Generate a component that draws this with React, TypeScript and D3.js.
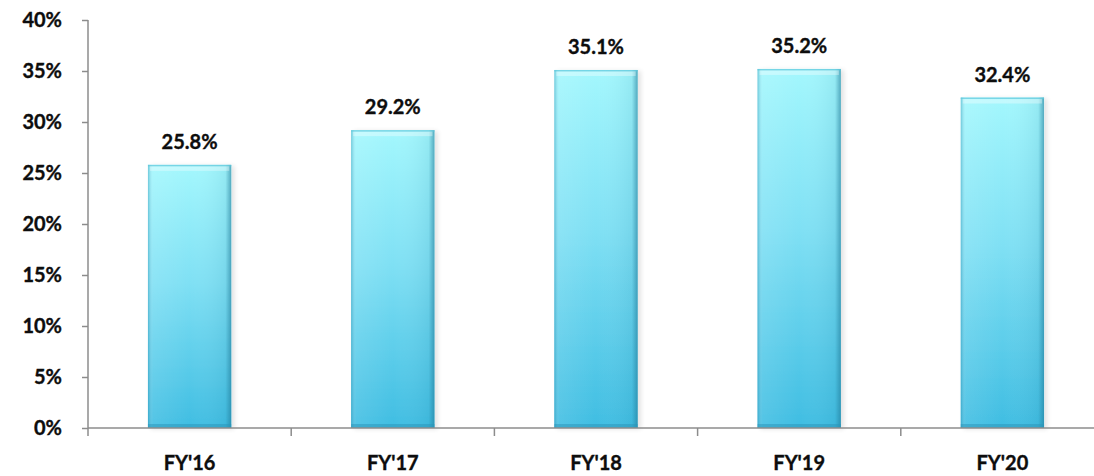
import { useEffect, useRef } from "react";
import * as d3 from "d3";

const CATEGORIES = ["FY'16", "FY'17", "FY'18", "FY'19", "FY'20"];
const VALUES = [25.8, 29.2, 35.1, 35.2, 32.4];
const Y_TICKS = [0, 5, 10, 15, 20, 25, 30, 35, 40];

const W = 1094, H = 476;
const FONT = "Lato, 'Open Sans', sans-serif";
const AXIS = "#8c8c8c";
const INK = "#0d0d0d";
const FS = 20;

export default function App() {
  const ref = useRef<SVGSVGElement>(null);

  useEffect(() => {
    if (!ref.current) return;
    const svg = d3.select(ref.current);
    svg.selectAll("*").remove();

    const m = { left: 88, top: 20, bottom: 48 };
    const x = d3.scaleBand<string>().domain(CATEGORIES).range([m.left, m.left + 203.2 * 5]).padding(0);
    const y = d3.scaleLinear().domain([0, 40]).range([H - m.bottom, m.top]);
    const barW = x.step() * 0.41;

    const defs = svg.append("defs");

    // main fill, light cyan at the top to deeper blue below
    const vg = defs.append("linearGradient").attr("id", "bar-v").attr("x1", 0).attr("y1", 0).attr("x2", 0).attr("y2", 1);
    vg.append("stop").attr("offset", "0%").attr("stop-color", "#a3f7fd");
    vg.append("stop").attr("offset", "45%").attr("stop-color", "#7fe0f4");
    vg.append("stop").attr("offset", "100%").attr("stop-color", "#3fbde2");

    // darker side edges
    const hg = defs.append("linearGradient").attr("id", "bar-h").attr("x1", 0).attr("y1", 0).attr("x2", 1).attr("y2", 0);
    hg.append("stop").attr("offset", "0%").attr("stop-color", "#2a8fb0").attr("stop-opacity", 0.45);
    hg.append("stop").attr("offset", "6%").attr("stop-color", "#ffffff").attr("stop-opacity", 0.1);
    hg.append("stop").attr("offset", "50%").attr("stop-color", "#ffffff").attr("stop-opacity", 0);
    hg.append("stop").attr("offset", "93%").attr("stop-color", "#1f7896").attr("stop-opacity", 0.1);
    hg.append("stop").attr("offset", "100%").attr("stop-color", "#1f7896").attr("stop-opacity", 0.6);

    const sh = defs.append("filter").attr("id", "shadow").attr("x", "-20%").attr("y", "-10%").attr("width", "140%").attr("height", "120%");
    sh.append("feGaussianBlur").attr("in", "SourceAlpha").attr("stdDeviation", 2.5).attr("result", "b");
    sh.append("feOffset").attr("in", "b").attr("dx", 3).attr("dy", 1).attr("result", "o");
    sh.append("feComponentTransfer").attr("in", "o").attr("result", "s")
      .append("feFuncA").attr("type", "linear").attr("slope", 0.12);
    const mg = sh.append("feMerge");
    mg.append("feMergeNode").attr("in", "s");
    mg.append("feMergeNode").attr("in", "SourceGraphic");

    // bars
    const bars = svg.append("g").selectAll("g.bar").data(VALUES).enter().append("g")
      .attr("class", "bar")
      .attr("transform", (_, i) => `translate(${x(CATEGORIES[i])! + (x.step() - barW) / 2},0)`);

    bars.append("rect")
      .attr("y", d => y(d)).attr("width", barW).attr("height", d => y(0) - y(d))
      .attr("fill", "url(#bar-v)").attr("filter", "url(#shadow)");
    bars.append("rect")
      .attr("y", d => y(d)).attr("width", barW).attr("height", d => y(0) - y(d))
      .attr("fill", "url(#bar-h)");
    // top bevel highlight
    bars.append("rect")
      .attr("x", 2).attr("y", d => y(d) + 1).attr("width", barW - 4).attr("height", 5)
      .attr("fill", "#ffffff").attr("opacity", 0.35);
    bars.append("rect")
      .attr("y", d => y(d)).attr("width", barW).attr("height", 1.5)
      .attr("fill", "#5fc8dc").attr("opacity", 0.7);
    // bottom shade
    bars.append("rect")
      .attr("y", y(0) - 4).attr("width", barW).attr("height", 4)
      .attr("fill", "#2a93b8").attr("opacity", 0.5);

    const boldText = (sel: any) => sel
      .attr("font-family", FONT).attr("font-weight", 700).attr("font-size", FS)
      .attr("fill", INK).attr("stroke", INK).attr("stroke-width", 0.35);

    // value labels
    svg.append("g").selectAll("text").data(VALUES).enter().append("text")
      .attr("x", (_, i) => x(CATEGORIES[i])! + x.step() / 2)
      .attr("y", d => y(d) - 16)
      .attr("text-anchor", "middle")
      .call(boldText)
      .text(d => `${d.toFixed(1)}%`);

    // y axis
    const ya = svg.append("g").attr("transform", `translate(${m.left},0)`)
      .call(d3.axisLeft(y).tickValues(Y_TICKS).tickSize(6).tickSizeOuter(0).tickPadding(20).tickFormat(d => `${d}%`));
    ya.select(".domain").attr("stroke", AXIS).attr("stroke-width", 1.5).attr("d", `M0,${y(40)}V${y(0) + 8}`);
    ya.selectAll(".tick line").attr("stroke", AXIS).attr("stroke-width", 1.5);
    ya.selectAll(".tick text").call(boldText);

    // x axis
    const xa = svg.append("g").attr("transform", `translate(0,${y(0)})`);
    xa.append("line").attr("x1", m.left).attr("x2", W).attr("stroke", AXIS).attr("stroke-width", 1.5);
    xa.selectAll("line.t").data(CATEGORIES.slice(1)).enter().append("line")
      .attr("class", "t")
      .attr("x1", d => x(d)!).attr("x2", d => x(d)!).attr("y1", 0).attr("y2", 8)
      .attr("stroke", AXIS).attr("stroke-width", 1.5);
    xa.selectAll("text").data(CATEGORIES).enter().append("text")
      .attr("x", d => x(d)! + x.step() / 2).attr("y", 42)
      .attr("text-anchor", "middle")
      .call(boldText)
      .text(d => d);
  }, []);

  return (
    <svg ref={ref} width={W} height={H} viewBox={`0 0 ${W} ${H}`}
      style={{ position: "absolute", left: 0, top: 0, background: "#fff" }} />
  );
}
